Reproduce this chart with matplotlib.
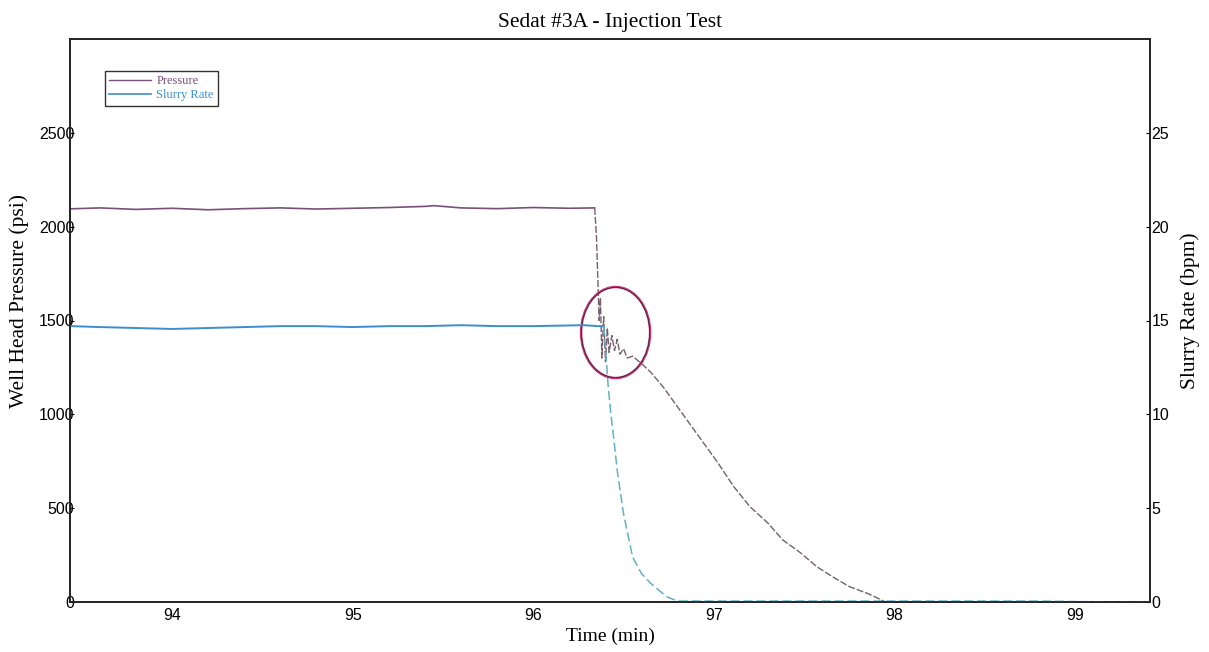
import matplotlib.pyplot as plt
import matplotlib.patches as patches
from matplotlib.lines import Line2D

# --- DATA ---
# Well head pressure, psi
p_time = [93.44, 93.6, 93.8, 94.0, 94.2, 94.4, 94.6, 94.8, 95.0, 95.2, 95.4,
          95.45, 95.6, 95.8, 96.0, 96.2, 96.34,
          96.35, 96.36, 96.365, 96.372, 96.38, 96.39, 96.40, 96.41, 96.42,
          96.435, 96.45, 96.465, 96.48, 96.50, 96.52, 96.55, 96.60,
          96.65, 96.72, 96.81, 96.92, 97.02, 97.11, 97.20, 97.30, 97.38,
          97.48, 97.57, 97.66, 97.75, 97.85, 97.90, 97.95,
          98.2, 98.5, 98.8, 99.1, 99.415]
p_psi = [2095, 2100, 2092, 2098, 2090, 2096, 2100, 2094, 2098, 2102, 2108,
         2112, 2100, 2096, 2102, 2098, 2100,
         1950, 1650, 1500, 1620, 1300, 1520, 1280, 1460, 1330,
         1420, 1340, 1400, 1320, 1350, 1300, 1310, 1270,
         1225, 1145, 1025, 878, 745, 615, 508, 420, 332,
         262, 188, 133, 82, 46, 24, 0,
         0, 0, 0, 0, 0]
P_SPLIT = 17  # first index of the falloff part

# Slurry rate, bpm
s_time = [93.44, 93.6, 93.8, 94.0, 94.2, 94.4, 94.6, 94.8, 95.0, 95.2, 95.4,
          95.6, 95.8, 96.0, 96.28, 96.36, 96.39,
          96.40, 96.415, 96.43, 96.445, 96.465, 96.50, 96.55, 96.60, 96.65,
          96.74, 96.80, 97.2, 97.6, 98.0, 98.4, 98.8, 99.2, 99.415]
s_bpm = [14.7, 14.65, 14.6, 14.55, 14.6, 14.65, 14.7, 14.7, 14.65, 14.7, 14.7,
         14.75, 14.7, 14.7, 14.75, 14.7, 14.7,
         13.5, 11.5, 10.0, 8.8, 7.0, 4.7, 2.4, 1.5, 1.0,
         0.27, 0.05, 0.05, 0.05, 0.05, 0.05, 0.05, 0.0, 0.0]
S_SPLIT = 17

# circled region (time, bpm) and its size
CIRCLE_XY = (96.456, 14.36)
CIRCLE_W = 0.382
CIRCLE_H = 4.85

P_COLOR = "#7a4f7c"
P_TAIL = "#76606c"
S_COLOR = "#3b8fd1"
S_TAIL = "#62b0c8"

SERIF = "Liberation Serif"
SANS = "Liberation Sans"

fig = plt.figure(figsize=(12.09, 6.52), dpi=100)
ax = fig.add_axes([70 / 1209, 1 - 602 / 652, 1080 / 1209, 563 / 652])
ax2 = ax.twinx()

# pressure on the left axis
ax.plot(p_time[:P_SPLIT], p_psi[:P_SPLIT], color=P_COLOR, lw=1.2)
ax.plot(p_time[P_SPLIT - 1:], p_psi[P_SPLIT - 1:], color=P_TAIL, lw=1.0,
        ls=(0, (5, 1.5)))

# slurry rate on the right axis
ax2.plot(s_time[:S_SPLIT], s_bpm[:S_SPLIT], color=S_COLOR, lw=1.4)
ax2.plot(s_time[S_SPLIT - 1:], s_bpm[S_SPLIT - 1:], color=S_TAIL, lw=1.1,
         ls=(0, (6, 2.5)))

# hand drawn circle round the pressure spikes
ax2.add_patch(patches.Ellipse(CIRCLE_XY, CIRCLE_W, CIRCLE_H, fill=False,
                              edgecolor="#c23a78", lw=1.8))
ax2.add_patch(patches.Ellipse(CIRCLE_XY, CIRCLE_W * 0.99, CIRCLE_H * 0.99,
                              fill=False, edgecolor="#2a2226", lw=0.5))

ax.set_xlim(93.435, 99.415)
ax.set_ylim(0, 3000)
ax2.set_ylim(0, 30)
ax.set_xticks([94, 95, 96, 97, 98, 99])
ax.set_yticks([0, 500, 1000, 1500, 2000, 2500])
ax2.set_yticks([0, 5, 10, 15, 20, 25])

ax.tick_params(axis="y", direction="in", length=3, pad=-3, labelsize=11.5)
ax.tick_params(axis="x", direction="in", length=0, pad=4, labelsize=11.5)
ax2.tick_params(axis="y", direction="in", length=3, pad=1, labelsize=11.5)
for lab in ax.get_xticklabels() + ax.get_yticklabels() + ax2.get_yticklabels():
    lab.set_fontfamily(SANS)

for a in (ax, ax2):
    for sp in a.spines.values():
        sp.set_linewidth(1.2)
        sp.set_color("#222222")

ax.set_title("Sedat #3A - Injection Test", fontfamily=SERIF, fontsize=15.5,
             pad=9)
ax.set_xlabel("Time (min)", fontfamily=SERIF, fontsize=14, labelpad=4)
ax.set_ylabel("Well Head Pressure (psi)", fontfamily=SERIF, fontsize=15.5)
ax.yaxis.set_label_coords(-0.038, 0.535)
ax2.set_ylabel("Slurry Rate (bpm)", fontfamily=SERIF, fontsize=15.5)
ax2.yaxis.set_label_coords(1.028, 0.517)

handles = [Line2D([], [], color=P_COLOR, lw=1.0),
           Line2D([], [], color=S_COLOR, lw=1.2)]
leg = ax2.legend(handles, ["Pressure", "Slurry Rate"], loc="upper left",
                 bbox_to_anchor=(0.032, 0.943), fancybox=False, framealpha=1,
                 edgecolor="#333333", handlelength=3.4, handletextpad=0.4,
                 borderpad=0.35, labelspacing=0.15, borderaxespad=0,
                 prop={"family": SERIF, "size": 9})
leg.get_frame().set_linewidth(1.0)
for txt, col in zip(leg.get_texts(), [P_COLOR, S_COLOR]):
    txt.set_color(col)

plt.savefig("out.png", dpi=100)
